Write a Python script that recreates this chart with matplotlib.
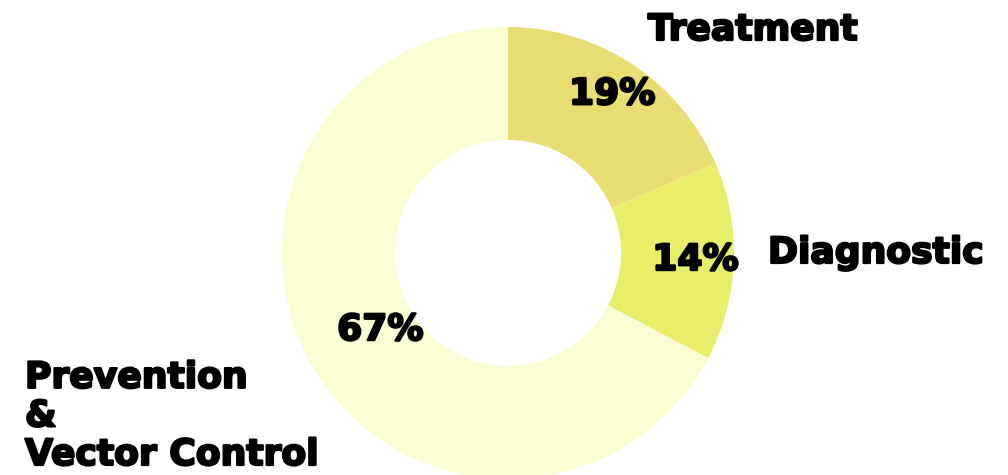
import matplotlib.pyplot as plt
import matplotlib.patheffects as pe
import numpy as np

categories = ['Treatment', 'Diagnostic', 'Prevention\n&\nVector Control']
values = [18.5, 14.2, 67.3]
pct_labels = ['19%', '14%', '67%']
colors = ['#E8DD72', '#E8EE6A', '#FAFCD2']

W, H = 1008, 475
cx, cy, R = 508, 253, 226


def px(x, y):
    # pixel position -> data coords (radius 1 = outer ring)
    return (x - cx) / R, (cy - y) / R


fig = plt.figure(figsize=(W / 100, H / 100), dpi=100)
ax = fig.add_axes([0, 0, 1, 1])

wedges, _ = ax.pie(values, colors=colors, startangle=90, counterclock=False,
                   radius=1, wedgeprops=dict(width=0.5, linewidth=0))

# thicken the bold face a bit, the original uses a black-weight font
heavy = [pe.withStroke(linewidth=1.6, foreground='black')]
font = dict(family='DejaVu Sans', weight='bold', size=26, color='black',
            path_effects=heavy)

# percent labels inside ring
pct_r = [0.84, 0.83, 0.66]
for w, lab, r in zip(wedges, pct_labels, pct_r):
    ang = np.deg2rad((w.theta1 + w.theta2) / 2)
    ax.text(r * np.cos(ang), r * np.sin(ang), lab, ha='center', va='center', **font)

# outer category labels
ax.text(*px(648, 40), categories[0], ha='left', va='baseline', **font)
ax.text(*px(768, 263), categories[1], ha='left', va='baseline', **font)
ax.text(*px(25, 465), categories[2], ha='left', va='baseline', linespacing=1.17, **font)

ax.set_xlim(-cx / R, (W - cx) / R)
ax.set_ylim(-(H - cy) / R, cy / R)
ax.set_aspect('equal')
ax.axis('off')

fig.savefig('out.png', dpi=100, facecolor='white')
